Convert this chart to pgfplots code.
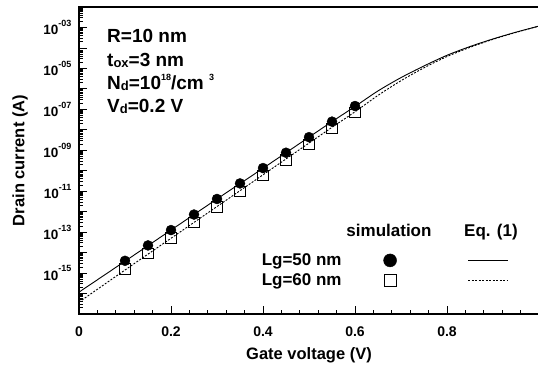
\documentclass[border=0pt]{standalone}
\usepackage{fontspec}
\setmainfont{Liberation Sans}
\usepackage{pgfplots}
\pgfplotsset{compat=1.18}

\def\minorlist{2e-17}
\foreach \e in {-17,...,-3}{\foreach \m in {2,...,9}{\xdef\minorlist{\minorlist,\m e\e}}}
\edef\tmp{\noexpand\pgfplotsset{myminor/.style={minor ytick={\minorlist}}}}\tmp

\pgfplotsset{
  markleg/.style={legend image code/.code={\draw[##1] plot coordinates {(0pt,0pt)};}},
  lineleg/.style={legend image code/.code={\draw[##1] (0pt,0pt) -- (40pt,0pt);}},
}

\newcommand\ytl[1]{10\raisebox{0.62em}{\fontsize{9}{9}\selectfont -#1}}
\newcommand\mysub[1]{{\fontsize{13}{13}\selectfont\raisebox{-1pt}{#1}}}
\newcommand\mysup[1]{\raisebox{9pt}{\fontsize{9}{9}\selectfont #1}}

\begin{document}
\begin{tikzpicture}
\begin{axis}[
  width=460pt, height=307pt, scale only axis,
  ymode=log, xmin=0, xmax=1, ymin=1e-17, ymax=1e-2,
  axis line style={line width=1.3pt},
  tick align=inside, xtick pos=bottom, ytick pos=left,
  xtick={0,0.2,0.4,0.6,0.8,1}, xticklabels={0,0.2,0.4,0.6,0.8,{}},
  minor x tick num=4,
  ytick={1e-16,1e-15,1e-14,1e-13,1e-12,1e-11,1e-10,1e-9,1e-8,1e-7,1e-6,1e-5,1e-4,1e-3},
  yticklabels={{},\ytl{15},{},\ytl{13},{},\ytl{11},{},\ytl{09},{},\ytl{07},{},\ytl{05},{},\ytl{03}},
  myminor,
  major tick length=8pt, minor tick length=4pt,
  every tick/.style={black,line width=0.8pt},
  x tick label style={font=\fontsize{14}{14}\selectfont\bfseries, yshift=-9pt},
  y tick label style={font=\fontsize{13.5}{14}\selectfont\bfseries, xshift=-4pt},
  xlabel={Gate voltage (V)}, ylabel={Drain current (A)},
  label style={font=\fontsize{16.5}{17}\selectfont\bfseries},
  xlabel style={at={([yshift=-41pt]axis description cs:0.5,0)}, anchor=center},
  ylabel style={at={([xshift=-59pt]axis description cs:0,0.5)}, anchor=center},
  legend columns=2, legend plot pos=right,
  legend style={draw=none, fill=none, at={(axis description cs:0.386,0.21)}, anchor=north west,
    font=\fontsize{17}{17}\selectfont\bfseries, row sep=3pt,
    /tikz/column 1/.style={column sep=40pt},
    /tikz/column 2/.style={column sep=37pt},
    /tikz/column 3/.style={column sep=30pt}},
]
\coordinate (O) at (rel axis cs:0,0);
\coordinate (E) at (rel axis cs:1,1);

% Eq. (1), Lg = 50 nm
\addplot[black, line width=0.9pt, smooth, forget plot] coordinates {
(0,1.17e-16) (0.1,3.80e-15) (0.2,1.26e-13) (0.3,4.17e-12) (0.4,1.32e-10)
(0.5,4.37e-9) (0.55,2.51e-8) (0.6,1.38e-7) (0.65,7.94e-7) (0.7,3.55e-6)
(0.75,1.32e-5) (0.8,4.37e-5) (0.85,1.17e-4) (0.9,2.75e-4) (0.95,5.89e-4) (1.0,1.17e-3)};
% Eq. (1), Lg = 60 nm
\addplot[black, line width=0.9pt, smooth, dash pattern=on 2pt off 1.5pt, forget plot] coordinates {
(0,3.80e-17) (0.1,1.41e-15) (0.2,5.01e-14) (0.3,1.78e-12) (0.4,6.31e-11)
(0.5,2.24e-9) (0.55,1.32e-8) (0.6,7.59e-8) (0.65,4.79e-7) (0.7,2.51e-6)
(0.75,1.07e-5) (0.8,3.80e-5) (0.85,1.07e-4) (0.9,2.63e-4) (0.95,5.75e-4) (1.0,1.17e-3)};
% simulation, Lg = 60 nm
\addplot[only marks, mark=square, mark size=5.2pt, black, mark options={line width=0.7pt, fill=none}, forget plot] coordinates {
(0.1,1.58e-15) (0.15,8.91e-15) (0.2,5.25e-14) (0.25,3.02e-13) (0.3,1.74e-12) (0.35,1.00e-11)
(0.4,6.03e-11) (0.45,3.47e-10) (0.5,2.00e-9) (0.55,1.15e-8) (0.6,7.08e-8)};
% simulation, Lg = 50 nm
\addplot[only marks, mark=*, mark size=5pt, black, forget plot] coordinates {
(0.1,3.98e-15) (0.15,2.24e-14) (0.2,1.26e-13) (0.25,7.24e-13) (0.3,4.17e-12) (0.35,2.40e-11)
(0.4,1.35e-10) (0.45,7.59e-10) (0.5,4.37e-9) (0.55,2.51e-8) (0.6,1.45e-7)};

\addlegendimage{only marks, mark=*, mark size=6.5pt, black, markleg}
\addlegendentry{Lg=50 nm}
\addlegendimage{black, line width=0.9pt, lineleg}
\addlegendentry{\mbox{}}
\addlegendimage{only marks, mark=square, mark size=6pt, black, mark options={line width=0.7pt}, markleg}
\addlegendentry{Lg=60 nm}
\addlegendimage{black, line width=0.9pt, dash pattern=on 2pt off 1.5pt, lineleg}
\addlegendentry{\mbox{}}

\node[font=\fontsize{17}{17}\selectfont\bfseries, anchor=base] at ([shift={(310pt,78pt)}]rel axis cs:0,0) {simulation};
\node[font=\fontsize{17}{17}\selectfont\bfseries, anchor=base] at ([shift={(412pt,78pt)}]rel axis cs:0,0) {Eq. (1)};

\node[font=\fontsize{19}{19}\selectfont\bfseries, anchor=base west, inner sep=0pt] at ([shift={(28pt,-35.7pt)}]rel axis cs:0,1) {R=10 nm};
\node[font=\fontsize{19}{19}\selectfont\bfseries, anchor=base west, inner sep=0pt] at ([shift={(28pt,-59pt)}]rel axis cs:0,1) {t\mysub{ox}=3 nm};
\node[font=\fontsize{19}{19}\selectfont\bfseries, anchor=base west, inner sep=0pt] at ([shift={(28pt,-82.3pt)}]rel axis cs:0,1) {N\mysub{d}=10\mysup{18}/cm \mysup{3}};
\node[font=\fontsize{19}{19}\selectfont\bfseries, anchor=base west, inner sep=0pt] at ([shift={(28pt,-105.7pt)}]rel axis cs:0,1) {V\mysub{d}=0.2 V};
\end{axis}
\pgfresetboundingbox
\path ([shift={(-79pt,-55pt)}]O) rectangle ([shift={(-1pt,7pt)}]E);
\end{tikzpicture}
\end{document}
